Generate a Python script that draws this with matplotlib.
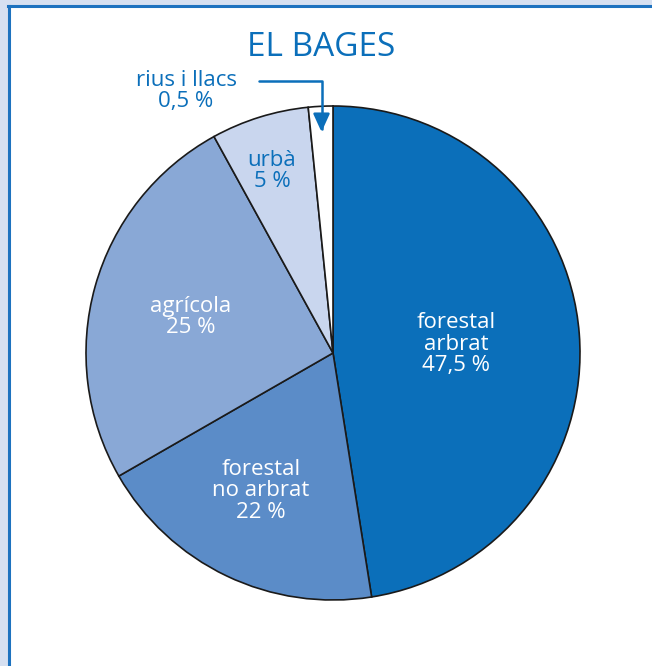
import matplotlib.pyplot as plt
from matplotlib.patches import Rectangle
from matplotlib.lines import Line2D

# slice shares as drawn in the chart (clockwise from 12 o'clock)
categories = ["forestal arbrat", "forestal no arbrat", "agrícola", "urbà", "rius i llacs"]
shares = [47.5, 19.2, 25.3, 6.4, 1.6]
label_texts = ["forestal\narbrat\n47,5 %", "forestal\nno arbrat\n22 %", "agrícola\n25 %",
               "urbà\n5 %", "rius i llacs\n0,5 %"]
colors = ["#0b6fba", "#5b8cc8", "#89a8d6", "#c9d6ee", "#ffffff"]
title = "EL BAGES"

W, H = 652, 666
BLUE = "#0b6fba"
FONT = "Open Sans"

fig = plt.figure(figsize=(W / 100, H / 100), dpi=100, facecolor="#d6e0f1")

# white panel with blue frame on the left and top
fig.add_artist(Rectangle((9 / W, 0), 1, 1 - 7 / H, transform=fig.transFigure,
                         facecolor="white", edgecolor="none", zorder=0))
fig.add_artist(Line2D([9 / W, 9 / W], [0, 1 - 6 / H], transform=fig.transFigure,
                      color="#1d72bf", lw=2.2))
fig.add_artist(Line2D([8 / W, 1], [1 - 6 / H, 1 - 6 / H], transform=fig.transFigure,
                      color="#1d72bf", lw=2.2))

ax = fig.add_axes([0, 0, 1, 1])

cx, cy, r = 333, H - 353, 247
ax.pie(shares, colors=colors, startangle=90, counterclock=False,
       center=(cx, cy), radius=r, frame=True,
       wedgeprops=dict(edgecolor="#1a1a1a", linewidth=1.2))
ax.set_xlim(0, W)
ax.set_ylim(0, H)
ax.set_aspect("equal")
ax.axis("off")

# slice labels
label_pos = [(456, 344), (261, 491), (191, 317), (272, 171), (186, 91)]
label_col = ["white", "white", "white", BLUE, BLUE]
for txt, (x, y), c in zip(label_texts, label_pos, label_col):
    ax.text(x, H - y, txt, ha="center", va="center", color=c, fontsize=16,
            family=FONT, linespacing=1.04)

ax.text(321, H - 47, title, ha="center", va="center", color=BLUE, fontsize=24,
        family=FONT)

# arrow pointing to the small slice
ax.annotate("", xy=(321.5, H - 132), xytext=(259, H - 81),
            arrowprops=dict(arrowstyle="-|>,head_length=0.55,head_width=0.25",
                            connectionstyle="angle,angleA=0,angleB=90,rad=0",
                            color=BLUE, lw=1.8, shrinkA=0, shrinkB=0,
                            mutation_scale=20))

fig.savefig("out.png", dpi=100, facecolor=fig.get_facecolor())
